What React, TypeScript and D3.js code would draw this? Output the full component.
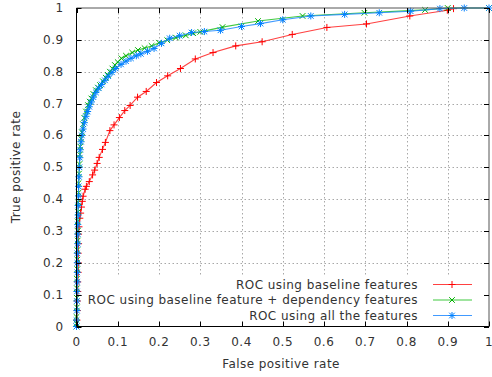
import React, { useEffect, useRef } from "react";
import * as d3 from "d3";

const W = 492;
const H = 377;

const xTicks = [0, 0.1, 0.2, 0.3, 0.4, 0.5, 0.6, 0.7, 0.8, 0.9, 1];
const yTicks = [0, 0.1, 0.2, 0.3, 0.4, 0.5, 0.6, 0.7, 0.8, 0.9, 1];
const xTickLabels = ["0", "0.1", "0.2", "0.3", "0.4", "0.5", "0.6", "0.7", "0.8", "0.9", "1"];
const yTickLabels = ["0", "0.1", "0.2", "0.3", "0.4", "0.5", "0.6", "0.7", "0.8", "0.9", "1"];

const seriesNames = [
  "ROC using baseline features",
  "ROC using baseline feature + dependency features",
  "ROC using all the features",
];

const baselineROC: [number, number][] = [
  [0, 0], [0.001, 0.02], [0.002, 0.05], [0.002, 0.08], [0.003, 0.11], [0.003, 0.14],
  [0.004, 0.17], [0.004, 0.2], [0.004, 0.23], [0.005, 0.26], [0.005, 0.29], [0.006, 0.313],
  [0.008, 0.34], [0.010, 0.356], [0.012, 0.375], [0.014, 0.393], [0.016, 0.409],
  [0.021, 0.431], [0.024, 0.44], [0.031, 0.455], [0.039, 0.476], [0.044, 0.491],
  [0.050, 0.512], [0.055, 0.531], [0.063, 0.556], [0.070, 0.578], [0.081, 0.615],
  [0.091, 0.633], [0.104, 0.656], [0.117, 0.678], [0.130, 0.694], [0.148, 0.72],
  [0.169, 0.738], [0.194, 0.766], [0.221, 0.787], [0.252, 0.81], [0.288, 0.84],
  [0.331, 0.86], [0.386, 0.881], [0.450, 0.894], [0.523, 0.917], [0.607, 0.939],
  [0.703, 0.95], [0.808, 0.975], [0.899, 0.993], [0.914, 0.998],
];

const dependencyROC: [number, number][] = [
  [0, 0], [0, 0.01], [0, 0.03], [0.001, 0.06], [0.001, 0.09], [0.001, 0.12], [0.001, 0.15],
  [0.002, 0.18], [0.002, 0.21], [0.002, 0.24], [0.003, 0.27], [0.003, 0.3], [0.003, 0.33],
  [0.004, 0.36], [0.004, 0.39], [0.005, 0.42], [0.005, 0.45], [0.006, 0.48], [0.007, 0.51],
  [0.008, 0.54], [0.009, 0.565], [0.011, 0.59], [0.013, 0.61], [0.016, 0.635], [0.019, 0.655],
  [0.023, 0.675], [0.028, 0.695], [0.032, 0.706], [0.036, 0.716], [0.041, 0.73], [0.047, 0.742],
  [0.052, 0.75], [0.057, 0.758], [0.064, 0.77], [0.071, 0.781], [0.076, 0.79], [0.081, 0.8],
  [0.087, 0.81], [0.093, 0.821], [0.1, 0.83], [0.109, 0.842], [0.12, 0.85], [0.135, 0.86],
  [0.149, 0.868], [0.165, 0.874], [0.182, 0.881], [0.2, 0.891], [0.22, 0.899], [0.241, 0.907],
  [0.265, 0.914], [0.283, 0.921], [0.3, 0.925], [0.354, 0.94], [0.44, 0.959], [0.548, 0.975],
  [0.698, 0.985], [0.845, 0.994], [0.9, 1], [1, 1],
];

const allROC: [number, number][] = [
  [0, 0], [0, 0.02], [0.001, 0.05], [0.001, 0.08], [0.001, 0.11], [0.002, 0.14], [0.002, 0.17],
  [0.002, 0.2], [0.002, 0.23], [0.003, 0.26], [0.003, 0.29], [0.003, 0.32], [0.004, 0.35],
  [0.004, 0.38], [0.005, 0.41], [0.005, 0.44], [0.006, 0.47], [0.007, 0.5], [0.008, 0.53],
  [0.009, 0.555], [0.011, 0.58], [0.013, 0.6], [0.016, 0.62], [0.019, 0.64], [0.023, 0.66],
  [0.027, 0.675], [0.031, 0.69], [0.036, 0.705], [0.041, 0.72], [0.047, 0.735], [0.054, 0.748],
  [0.061, 0.76], [0.069, 0.773], [0.077, 0.786], [0.086, 0.798], [0.095, 0.81], [0.108, 0.823],
  [0.12, 0.833], [0.132, 0.842], [0.145, 0.85], [0.156, 0.856], [0.172, 0.864], [0.188, 0.873],
  [0.206, 0.889], [0.226, 0.905], [0.25, 0.913], [0.279, 0.923], [0.31, 0.926], [0.349, 0.93],
  [0.4, 0.942], [0.446, 0.951], [0.5, 0.963], [0.568, 0.975], [0.65, 0.98], [0.734, 0.985],
  [0.81, 0.99], [0.881, 0.998], [0.94, 1], [1, 1],
];

const lineColors = ["#ff2020", "#20c020", "#2088ff"];
const markColors = ["#ff0000", "#00b000", "#0080ff"];
const markerTypes = ["plus", "cross", "star"];

function markerPath(type: string, s: number) {
  const plus = `M${-s},0H${s}M0,${-s}V${s}`;
  const d = s * 0.8;
  const cross = `M${-d},${-d}L${d},${d}M${-d},${d}L${d},${-d}`;
  if (type === "plus") return plus;
  if (type === "cross") return cross;
  return plus + cross;
}

export default function App() {
  const ref = useRef<SVGSVGElement | null>(null);

  useEffect(() => {
    const svg = d3.select(ref.current);
    svg.selectAll("*").remove();
    const font = "DejaVu Sans, sans-serif";
    const fs = 12;
    const ls = 0.45;

    const x = d3.scaleLinear().domain([0, 1]).range([76.5, 489]);
    const y = d3.scaleLinear().domain([0, 1]).range([326.5, 8]);

    svg.append("rect").attr("width", W).attr("height", H).attr("fill", "#fff");

    // grid
    const grid = svg.append("g");
    xTicks.slice(1, -1).forEach((t) => {
      grid.append("line")
        .attr("x1", Math.round(x(t)) + 0.5).attr("x2", Math.round(x(t)) + 0.5)
        .attr("y1", y(0)).attr("y2", y(1))
        .attr("stroke", "#a8a8a8").attr("stroke-width", 1).attr("stroke-dasharray", "1.5,2.5");
    });
    yTicks.slice(1, -1).forEach((t) => {
      grid.append("line")
        .attr("x1", x(0)).attr("x2", x(1))
        .attr("y1", Math.round(y(t)) + 0.5).attr("y2", Math.round(y(t)) + 0.5)
        .attr("stroke", "#a8a8a8").attr("stroke-width", 1).attr("stroke-dasharray", "1.5,2.5");
    });

    // opaque key box
    svg.append("rect").attr("x", 82).attr("y", 277).attr("width", 403).attr("height", 48).attr("fill", "#fff");

    // tick labels
    const tl = svg.append("g").attr("font-family", font).attr("font-size", fs)
      .attr("letter-spacing", ls).attr("fill", "#333");
    xTicks.forEach((t, i) => {
      tl.append("text").attr("x", x(t)).attr("y", 346).attr("text-anchor", "middle").text(xTickLabels[i]);
    });
    yTicks.forEach((t, i) => {
      tl.append("text").attr("x", 63.5).attr("y", y(t) + 4).attr("text-anchor", "end").text(yTickLabels[i]);
    });

    // axis titles
    svg.append("text").attr("x", 281).attr("y", 368).attr("text-anchor", "middle")
      .attr("font-family", font).attr("font-size", fs).attr("letter-spacing", ls)
      .attr("fill", "#333").text("False positive rate");
    svg.append("text").attr("transform", `translate(19.5,167) rotate(-90)`).attr("text-anchor", "middle")
      .attr("font-family", font).attr("font-size", fs).attr("letter-spacing", ls)
      .attr("fill", "#333").text("True positive rate");

    // series
    const data = [baselineROC, dependencyROC, allROC];
    const line = d3.line<[number, number]>().x((d) => x(d[0])).y((d) => y(d[1]));
    data.forEach((ds, i) => {
      const g = svg.append("g");
      g.append("path").attr("d", line(ds) as string).attr("fill", "none")
        .attr("stroke", lineColors[i]).attr("stroke-width", 1.1).attr("stroke-opacity", 0.85);
      g.selectAll("path.m").data(ds).enter().append("path").attr("class", "m")
        .attr("transform", (d) => `translate(${x(d[0])},${y(d[1])})`)
        .attr("d", markerPath(markerTypes[i], 3.5))
        .attr("stroke", markColors[i]).attr("stroke-width", 1).attr("fill", "none");
    });

    // border
    const b = svg.append("g").attr("stroke", "#000").attr("stroke-width", 1).attr("fill", "none");
    b.append("path").attr("d", `M${x(0)},${y(1)}L${x(1)},${y(1)}L${x(1)},${y(0)}`).attr("stroke", "#555");
    b.append("path").attr("d", `M${x(0)},${y(1)}L${x(0)},${y(0)}L${x(1)},${y(0)}`);

    // ticks (inward, mirrored)
    const tk = svg.append("g").attr("stroke", "#000").attr("stroke-width", 1);
    xTicks.forEach((t) => {
      const px = Math.round(x(t)) + 0.5;
      tk.append("line").attr("x1", px).attr("x2", px).attr("y1", y(0)).attr("y2", y(0) - 5);
      tk.append("line").attr("x1", px).attr("x2", px).attr("y1", y(1)).attr("y2", y(1) + 5);
    });
    yTicks.forEach((t) => {
      const py = Math.round(y(t)) + 0.5;
      tk.append("line").attr("x1", x(0)).attr("x2", x(0) + 5).attr("y1", py).attr("y2", py);
      tk.append("line").attr("x1", x(1)).attr("x2", x(1) - 5).attr("y1", py).attr("y2", py);
    });

    // legend
    const lg = svg.append("g").attr("font-family", font).attr("font-size", fs).attr("letter-spacing", ls);
    seriesNames.forEach((name, i) => {
      const cy = 284.5 + i * 15.5;
      lg.append("text").attr("x", 418).attr("y", cy + 4).attr("text-anchor", "end").attr("fill", "#333").text(name);
      lg.append("line").attr("x1", 433).attr("x2", 472).attr("y1", cy).attr("y2", cy)
        .attr("stroke", lineColors[i]).attr("stroke-width", 1.2).attr("stroke-opacity", 0.85);
      lg.append("path").attr("transform", `translate(452,${cy})`).attr("d", markerPath(markerTypes[i], 3.5))
        .attr("stroke", markColors[i]).attr("stroke-width", 1).attr("fill", "none");
    });
  }, []);

  return (
    <div style={{ position: "fixed", left: 0, top: 0 }}>
      <svg ref={ref} width={W} height={H} style={{ display: "block" }} />
    </div>
  );
}
